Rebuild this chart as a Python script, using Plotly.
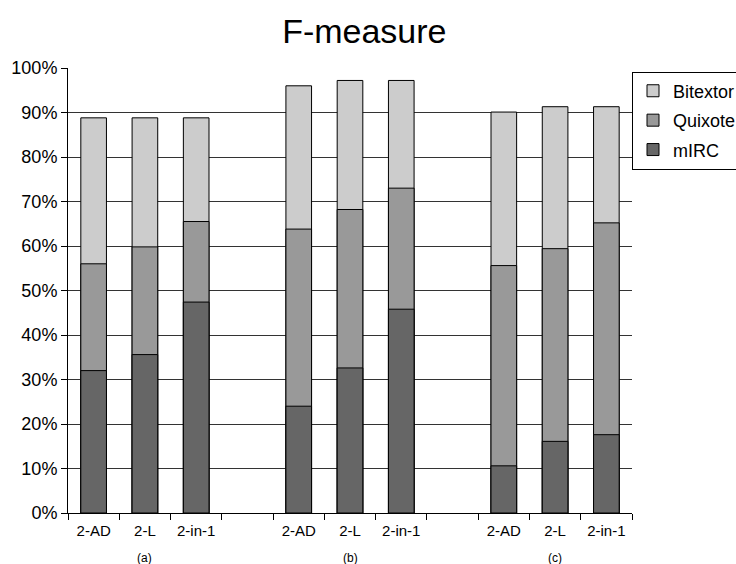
import plotly.graph_objects as go

# Bar slots: three configurations per test set, with an empty slot between sets
slots = [0, 1, 2, 4, 5, 6, 8, 9, 10]
configs = ["2-AD", "2-L", "2-in-1", "2-AD", "2-L", "2-in-1", "2-AD", "2-L", "2-in-1"]
groups = ["(a)", "(b)", "(c)"]
group_centers = [1, 5, 9]

# F-measure (%) per system
bitextor = [88.8, 88.8, 88.8, 96.0, 97.2, 97.2, 90.1, 91.3, 91.3]
quixote = [56.0, 59.8, 65.5, 63.8, 68.2, 73.0, 55.6, 59.4, 65.2]
mirc = [32.0, 35.6, 47.4, 24.0, 32.6, 45.8, 10.6, 16.1, 17.6]

series = [
    ("Bitextor", bitextor, "#cccccc"),
    ("Quixote", quixote, "#999999"),
    ("mIRC", mirc, "#666666"),
]

FONT = "Liberation Sans, Arial, sans-serif"

fig = go.Figure()
for name, vals, color in series:
    fig.add_trace(go.Bar(
        x=slots, y=vals, name=name, width=0.5, legendgroup=name,
        marker=dict(color=color, line=dict(color="black", width=1)),
    ))

for g, cx in zip(groups, group_centers):
    fig.add_annotation(x=cx, y=-0.1, xref="x", yref="paper", text=g,
                       showarrow=False, yanchor="middle",
                       font=dict(family=FONT, size=12, color="black"))

fig.update_layout(
    width=736, height=564,
    barmode="overlay",
    paper_bgcolor="white", plot_bgcolor="white",
    margin=dict(l=68, r=104, t=68, b=51, autoexpand=False),
    font=dict(family=FONT, color="black"),
    title=dict(text="F-measure", x=0.495, xanchor="center", y=0.945, yanchor="middle",
               font=dict(family=FONT, size=34, color="black")),
    showlegend=True,
    legend=dict(x=1.0, xanchor="left", y=0.992, yanchor="top",
                bordercolor="black", borderwidth=1, bgcolor="white",
                font=dict(family=FONT, size=18, color="black"),
                tracegroupgap=3),
    xaxis=dict(
        range=[-0.5, 10.5], tickmode="array", tickvals=slots, ticktext=configs,
        ticks="", showgrid=False, zeroline=False,
        showline=True, linecolor="black", linewidth=1,
        tickfont=dict(family=FONT, size=15, color="black"),
        ticklabelstandoff=4,
        minor=dict(tickmode="array", tickvals=[i - 0.5 for i in range(12)],
                   ticks="outside", ticklen=6, tickcolor="black", tickwidth=1,
                   showgrid=False),
    ),
    yaxis=dict(
        range=[0, 100], tickvals=list(range(0, 101, 10)),
        ticktext=[f"{v}%" for v in range(0, 101, 10)],
        ticks="outside", ticklen=6, tickcolor="black",
        showgrid=True, gridcolor="#333333", gridwidth=1, zeroline=False,
        showline=True, linecolor="black", linewidth=1,
        tickfont=dict(family=FONT, size=18, color="black"),
    ),
)

fig.write_html("out.html")
